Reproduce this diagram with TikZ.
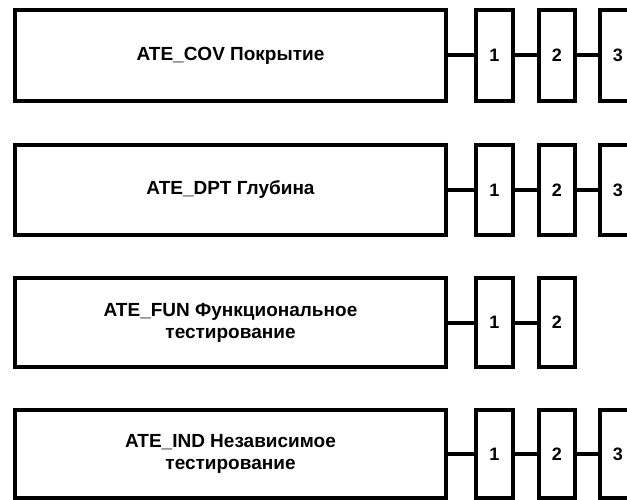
\documentclass[tikz,border=0pt]{standalone}
\usepackage{fontspec}
\setmainfont{Liberation Sans}
\begin{document}
\begin{tikzpicture}[x=1pt,y=-1pt,
  box/.style={draw=black, line width=4.2pt, fill=white, rectangle, inner sep=0pt, font=\bfseries\fontsize{19}{22}\selectfont, align=center},
  mainbox/.style={box, minimum width=431pt},
  numbox/.style={box, minimum width=36.5pt, font=\bfseries\fontsize{18}{22}\selectfont},
  link/.style={draw=black, line width=4pt}]
\useasboundingbox (0,0) rectangle (627,500);
\clip (0,0) rectangle (627,500);
% row 1
\node[mainbox, minimum height=91pt] (m1) at (230.5,55.5) {ATE\_COV Покрытие};
\node[numbox, minimum height=91pt] (a1) at (494.5,55.5) {1};
\node[numbox, minimum height=91pt] (a2) at (557,55.5) {2};
\node[numbox, minimum height=91pt] (a3) at (618,55.5) {3};
\draw[link] (m1.east) -- (a1.west);
\draw[link] (a1.east) -- (a2.west);
\draw[link] (a2.east) -- (a3.west);
% row 2
\node[mainbox, minimum height=90pt] (m2) at (230.5,190) {ATE\_DPT Глубина};
\node[numbox, minimum height=90pt] (b1) at (494.5,190) {1};
\node[numbox, minimum height=90pt] (b2) at (557,190) {2};
\node[numbox, minimum height=90pt] (b3) at (618,190) {3};
\draw[link] (m2.east) -- (b1.west);
\draw[link] (b1.east) -- (b2.west);
\draw[link] (b2.east) -- (b3.west);
% row 3
\node[mainbox, minimum height=89pt] (m3) at (230.5,322.5) {ATE\_FUN Функциональное\\тестирование};
\node[numbox, minimum height=89pt] (c1) at (494.5,322.5) {1};
\node[numbox, minimum height=89pt] (c2) at (557,322.5) {2};
\draw[link] (m3.east) -- (c1.west);
\draw[link] (c1.east) -- (c2.west);
% row 4
\node[mainbox, minimum height=88pt] (m4) at (230.5,454) {ATE\_IND Независимое\\тестирование};
\node[numbox, minimum height=88pt] (d1) at (494.5,454) {1};
\node[numbox, minimum height=88pt] (d2) at (557,454) {2};
\node[numbox, minimum height=88pt] (d3) at (618,454) {3};
\draw[link] (m4.east) -- (d1.west);
\draw[link] (d1.east) -- (d2.west);
\draw[link] (d2.east) -- (d3.west);
\end{tikzpicture}
\end{document}
